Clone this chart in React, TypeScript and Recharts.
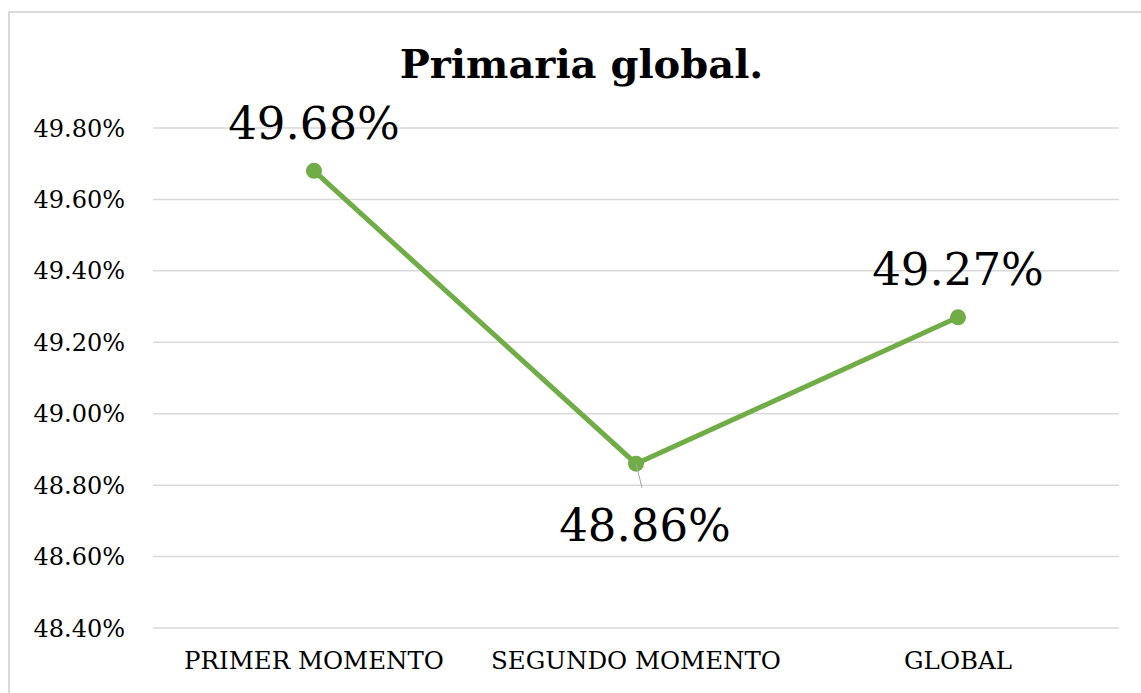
import { LineChart, Line, XAxis, YAxis, CartesianGrid, LabelList } from 'recharts'

const categories = ['PRIMER MOMENTO', 'SEGUNDO MOMENTO', 'GLOBAL']
const values = [49.68, 48.86, 49.27]
const yTicks = [48.4, 48.6, 48.8, 49.0, 49.2, 49.4, 49.6, 49.8]

const data = categories.map((name, i) => ({ name, value: values[i] }))

const FONT = '"DejaVu Serif", serif'
const GREEN = '#70AD47'

const pct = (v: number) => `${v.toFixed(2)}%`

const PointLabel = (props: any) => {
  const { x, y, value, index } = props
  const below = index === 1
  if (below) {
    return (
      <g>
        <line x1={x} y1={y} x2={x + 6} y2={y + 24} stroke="#a6a6a6" strokeWidth={1} />
        <text x={x + 9} y={y + 77} textAnchor="middle" fontFamily={FONT} fontSize={45} fill="#000">
          {pct(value)}
        </text>
      </g>
    )
  }
  return (
    <text x={x} y={y - 32} textAnchor="middle" fontFamily={FONT} fontSize={45} fill="#000">
      {pct(value)}
    </text>
  )
}

export default function App() {
  return (
    <div style={{ position: 'absolute', left: 0, top: 0, width: 1141, height: 693, background: '#fff', overflow: 'hidden' }}>
      {/* chart frame: only top and left edges are visible in the crop */}
      <div
        style={{
          position: 'absolute',
          left: 8,
          top: 11,
          width: 1160,
          height: 700,
          border: '2px solid #d9d9d9',
          boxSizing: 'border-box',
        }}
      />
      <div
        style={{
          position: 'absolute',
          left: 0,
          top: 38,
          width: 1163,
          textAlign: 'center',
          fontFamily: FONT,
          fontWeight: 'bold',
          fontSize: 40,
          lineHeight: '52px',
        }}
      >
        Primaria global.
      </div>
      <div style={{ position: 'absolute', left: 0, top: 0 }}>
        <LineChart width={1141} height={693} data={data} margin={{ top: 128, right: 22, bottom: 0, left: 8 }}>
          <CartesianGrid horizontal vertical={false} stroke="#d9d9d9" strokeWidth={1.5} />
          <XAxis
            dataKey="name"
            height={65}
            padding={{ left: 161, right: 161 }}
            axisLine={false}
            tickLine={false}
            tickSize={0}
            tickMargin={24}
            interval={0}
            tick={{ fontFamily: FONT, fontSize: 24.5, fill: '#000' }}
          />
          <YAxis
            width={145}
            domain={[48.4, 49.8]}
            ticks={yTicks}
            tickFormatter={pct}
            axisLine={false}
            tickLine={false}
            tickSize={0}
            tickMargin={28}
            tick={{ fontFamily: FONT, fontSize: 24, fill: '#000' }}
          />
          <Line
            type="linear"
            dataKey="value"
            stroke={GREEN}
            strokeWidth={5}
            dot={{ r: 8, fill: GREEN, stroke: GREEN, strokeWidth: 0 }}
            isAnimationActive={false}
          >
            <LabelList dataKey="value" content={PointLabel} />
          </Line>
        </LineChart>
      </div>
    </div>
  )
}
